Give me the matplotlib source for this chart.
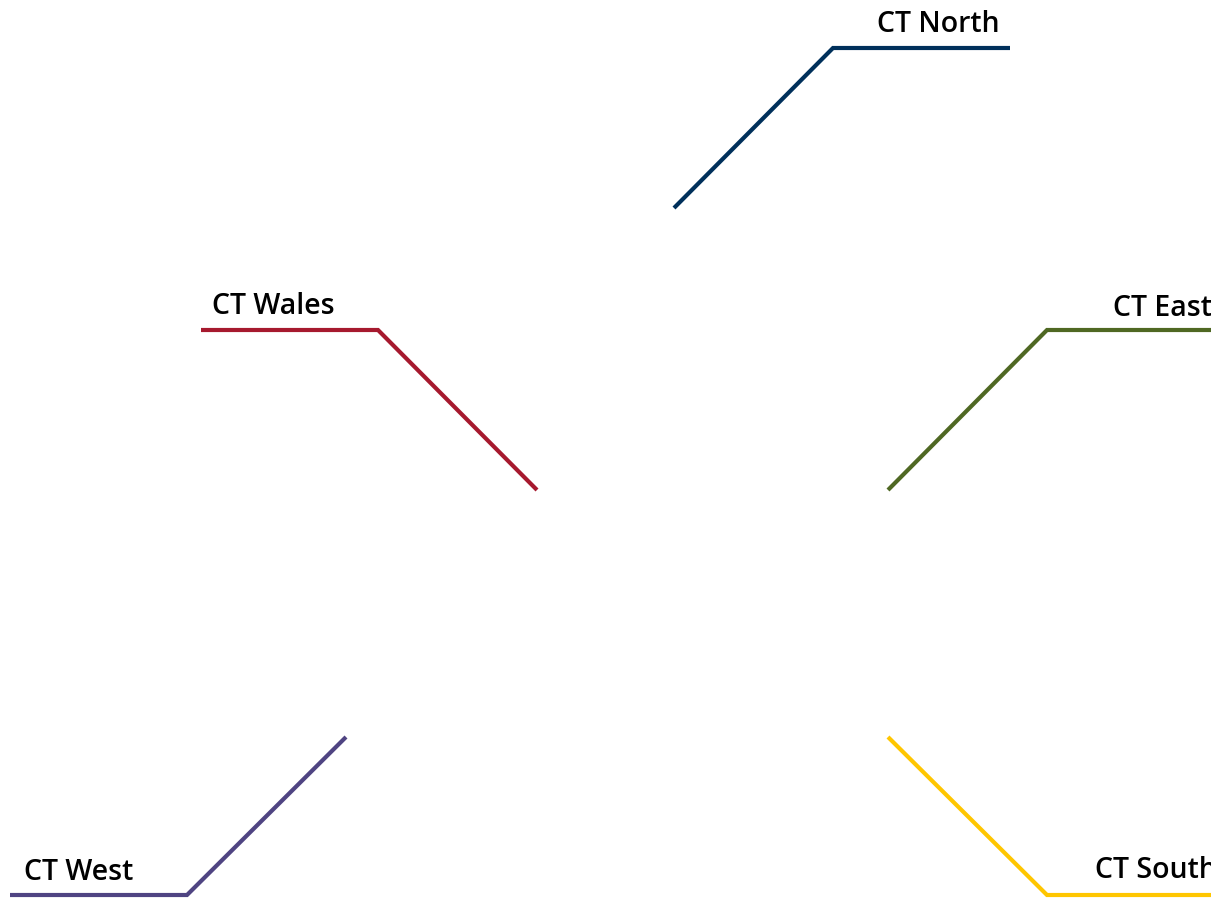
import matplotlib
matplotlib.use("Agg")
from matplotlib import pyplot as plt

W, H = 1211, 898

# leader lines, in pixel units (x right, y down)
names = ['CT North', 'CT Wales', 'CT East', 'CT West', 'CT South']
colors = ['#00305B', '#A6192E', '#4F6823', '#4F4482', '#FFC600']
line_x = [
    [674, 833, 1010],
    [537, 378, 201],
    [888, 1047, 1211],
    [346, 187, 10],
    [888, 1047, 1211],
]
line_y = [
    [208, 48, 48],
    [490, 330, 330],
    [490, 330, 330],
    [737, 895, 895],
    [737, 895, 895],
]
label_x = [1000, 212, 1113, 24, 1095]
label_y = [24, 306, 308, 873, 871]
label_ha = ['right', 'left', 'left', 'left', 'left']

fig = plt.figure(figsize=(W / 100, H / 100), dpi=100)
ax = fig.add_axes([0, 0, 1, 1])
ax.set_xlim(0, W)
ax.set_ylim(H, 0)
ax.axis('off')

# East and South labels run off the right edge, as in the source image
for i in range(len(names)):
    ax.plot(line_x[i], line_y[i], color=colors[i], lw=3.0,
            solid_joinstyle='miter', solid_capstyle='butt')
    ax.text(label_x[i], label_y[i], names[i], ha=label_ha[i], va='center',
            fontsize=20.5, family='Open Sans', weight='semibold', color='#000000')

fig.savefig('out.png', dpi=100)
